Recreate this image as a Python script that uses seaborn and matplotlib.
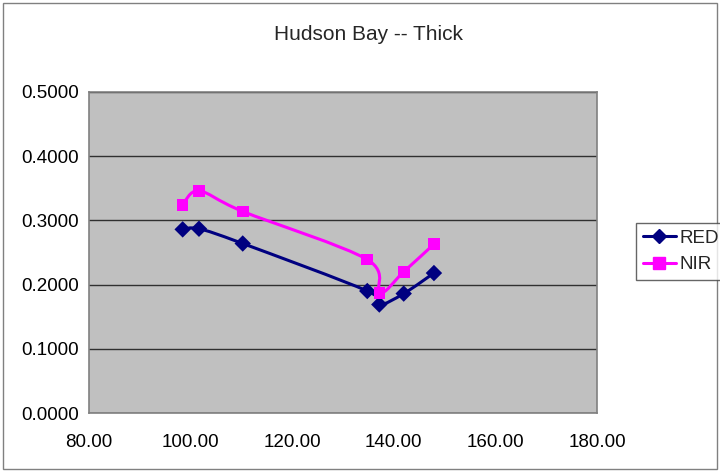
import numpy as np
import pandas as pd
import matplotlib
matplotlib.use("Agg")
import matplotlib.pyplot as plt
import seaborn as sns
from matplotlib.path import Path
from matplotlib.patches import PathPatch, Rectangle
from matplotlib.lines import Line2D

# ---- data ----
x_vals = [98.44, 101.65, 110.26, 134.78, 137.15, 141.95, 147.90]
red_vals = [0.286, 0.287, 0.264, 0.190, 0.169, 0.186, 0.218]
nir_vals = [0.324, 0.346, 0.314, 0.239, 0.187, 0.220, 0.263]
series_names = ["RED", "NIR"]
x_ticks = [80, 100, 120, 140, 160, 180]
y_ticks = [0.0, 0.1, 0.2, 0.3, 0.4, 0.5]
title = "Hudson Bay -- Thick"

colors = {"RED": "#000080", "NIR": "#FF00FF"}
markers = {"RED": "D", "NIR": "s"}
msizes = {"RED": 7, "NIR": 9}

df = pd.DataFrame({
    "x": x_vals * 2,
    "y": red_vals + nir_vals,
    "series": ["RED"] * len(x_vals) + ["NIR"] * len(x_vals),
})

sns.set_theme(style="white")
plt.rcParams["font.family"] = ["Liberation Sans", "DejaVu Sans"]

fig = plt.figure(figsize=(7.2, 4.72), dpi=100)
fig.patch.set_facecolor("white")
fig.patches.append(Rectangle((0.004, 0.006), 0.992, 0.988, transform=fig.transFigure,
                             fill=False, edgecolor="#808080", linewidth=1.0))
ax = fig.add_axes([89 / 720, 1 - 413 / 472, (597 - 89) / 720, (413 - 92) / 472])
ax.set_facecolor("#C0C0C0")
ax.set_xlim(80, 180)
ax.set_ylim(0, 0.5)
ax.set_xticks(x_ticks)
ax.set_yticks(y_ticks)
ax.set_xticklabels([f"{v:.2f}" for v in x_ticks], fontsize=13.5)
ax.set_yticklabels([f"{v:.4f}" for v in y_ticks], fontsize=13.5)
ax.yaxis.grid(True, color="#303030", linewidth=1.0)
ax.xaxis.grid(False)
ax.set_axisbelow(True)
for s in ax.spines.values():
    s.set_color("#808080")
    s.set_linewidth(1.2)
ax.tick_params(axis="both", direction="out", length=5, width=1, color="#606060",
               labelcolor="black")
ax.tick_params(axis="y", pad=2)
ax.tick_params(axis="x", pad=10)


def smooth_path(xs, ys):
    pts = np.column_stack([xs, ys]).astype(float)
    pts = ax.transData.transform(pts)
    n = len(pts)
    verts = [pts[0]]
    codes = [Path.MOVETO]
    for i in range(n - 1):
        p0 = pts[i - 1] if i > 0 else pts[i]
        p1 = pts[i]
        p2 = pts[i + 1]
        p3 = pts[i + 2] if i + 2 < n else pts[i + 1]
        c1 = p1 + (p2 - p0) / 6.0
        c2 = p2 - (p3 - p1) / 6.0
        verts += [c1, c2, p2]
        codes += [Path.CURVE4] * 3
    verts = ax.transData.inverted().transform(np.array(verts))
    return Path(verts, codes)


for name, vals in zip(series_names, [red_vals, nir_vals]):
    ax.add_patch(PathPatch(smooth_path(x_vals, vals), fill=False,
                           edgecolor=colors[name], linewidth=2.2, zorder=3))

sns.scatterplot(data=df, x="x", y="y", hue="series", style="series",
                palette=colors, markers=markers, s=70, linewidth=0,
                legend=False, ax=ax, zorder=4)
ax.set_xlabel("")
ax.set_ylabel("")

fig.text(368 / 720, 1 - 34 / 472, title, ha="center", va="center", fontsize=15)

handles = [Line2D([0], [0], color=colors[n], marker=markers[n], markersize=msizes[n],
                  linewidth=2.2) for n in series_names]
leg = fig.legend(handles, series_names, loc="upper left",
                 bbox_to_anchor=(636 / 720, 1 - 223 / 472), fontsize=13.5,
                 frameon=True, fancybox=False, handlelength=1.8, handletextpad=0.15,
                 borderpad=0.35, labelspacing=0.5, borderaxespad=0)
leg.get_frame().set_edgecolor("#404040")
leg.get_frame().set_linewidth(1.0)

fig.savefig("out.png", dpi=100)
